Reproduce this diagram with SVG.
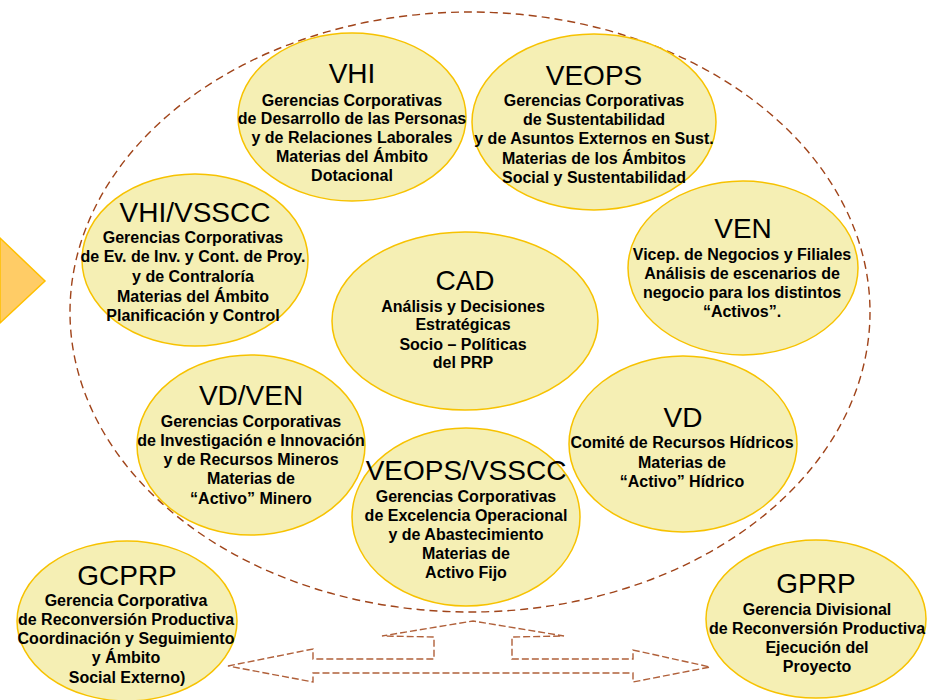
<svg xmlns="http://www.w3.org/2000/svg" width="933" height="700" viewBox="0 0 933 700">
<style>
.n ellipse{fill:#F5EFB4;stroke:#F7C200;stroke-width:1.5}
text{font-family:"Liberation Sans",Arial,sans-serif;fill:#000;text-anchor:middle}
.t{font-size:28px}
.b{font-size:16px;font-weight:bold}
.dash{fill:none;stroke:#A0441A;stroke-width:1.4;stroke-dasharray:8 5}
.arr{fill:none;stroke:#B0603A;stroke-width:1.4;stroke-dasharray:7 3}
</style>
<rect width="933" height="700" fill="#fff"/>
<polygon points="0,238 45,281 0,323" fill="#FFCC66" stroke="#FFC000" stroke-width="1.5"/>
<g id="connectors">
<ellipse class="dash" cx="470" cy="312" rx="400" ry="300"/>
<path class="arr" d="M228,666 L313,649 L313,659 L434,659 L434,637 L382,636 L473,621 L564,636 L512,637 L512,659 L633,659 L633,650 L710,667 L633,682 L633,673 L313,673 L313,682 Z"/>
</g>
<g id="VHI" class="n"><ellipse cx="352" cy="117" rx="114" ry="84"/>
<text class="t" x="352" y="83">VHI</text>
<text class="b" x="352" y="106">Gerencias Corporativas</text>
<text class="b" x="352" y="124">de Desarrollo de las Personas</text>
<text class="b" x="352" y="143">y de Relaciones Laborales</text>
<text class="b" x="352" y="162">Materias del Ámbito</text>
<text class="b" x="352" y="181">Dotacional</text></g>
<g id="VEOPS" class="n"><ellipse cx="594" cy="122" rx="122" ry="88"/>
<text class="t" x="594" y="85">VEOPS</text>
<text class="b" x="594" y="106">Gerencias Corporativas</text>
<text class="b" x="594" y="125">de Sustentabilidad</text>
<text class="b" x="594" y="144">y de Asuntos Externos en Sust.</text>
<text class="b" x="594" y="164">Materias de los Ámbitos</text>
<text class="b" x="594" y="183">Social y Sustentabilidad</text></g>
<g id="VHI-VSSCC" class="n"><ellipse cx="195" cy="260" rx="113" ry="86"/>
<text class="t" x="195" y="222">VHI/VSSCC</text>
<text class="b" x="193" y="243">Gerencias Corporativas</text>
<text class="b" x="193" y="262">de Ev. de Inv. y Cont. de Proy.</text>
<text class="b" x="193" y="282">y de Contraloría</text>
<text class="b" x="193" y="302">Materias del Ámbito</text>
<text class="b" x="193" y="321">Planificación y Control</text></g>
<g id="VEN" class="n"><ellipse cx="743" cy="268" rx="115" ry="87"/>
<text class="t" x="743" y="238">VEN</text>
<text class="b" x="742" y="260">Vicep. de Negocios y Filiales</text>
<text class="b" x="742" y="279">Análisis de escenarios de</text>
<text class="b" x="742" y="298">negocio para los distintos</text>
<text class="b" x="742" y="317">“Activos”.</text></g>
<g id="CAD" class="n"><ellipse cx="465" cy="321" rx="133" ry="89"/>
<text class="t" x="465" y="290">CAD</text>
<text class="b" x="463" y="312">Análisis y Decisiones</text>
<text class="b" x="463" y="330">Estratégicas</text>
<text class="b" x="463" y="350">Socio – Políticas</text>
<text class="b" x="463" y="368">del PRP</text></g>
<g id="VD-VEN" class="n"><ellipse cx="251" cy="445" rx="114" ry="90"/>
<text class="t" x="251" y="405">VD/VEN</text>
<text class="b" x="251" y="427">Gerencias Corporativas</text>
<text class="b" x="251" y="446">de Investigación e Innovación</text>
<text class="b" x="251" y="465">y de Recursos Mineros</text>
<text class="b" x="251" y="484">Materias de</text>
<text class="b" x="251" y="504">“Activo” Minero</text></g>
<g id="VD" class="n"><ellipse cx="683" cy="444" rx="114" ry="88"/>
<text class="t" x="683" y="427">VD</text>
<text class="b" x="682" y="448">Comité de Recursos Hídricos</text>
<text class="b" x="682" y="468">Materias de</text>
<text class="b" x="682" y="487">“Activo” Hídrico</text></g>
<g id="VEOPS-VSSCC" class="n"><ellipse cx="466" cy="517" rx="114" ry="89"/>
<text class="t" x="466" y="480">VEOPS/VSSCC</text>
<text class="b" x="466" y="502">Gerencias Corporativas</text>
<text class="b" x="466" y="521">de Excelencia Operacional</text>
<text class="b" x="466" y="540">y de Abastecimiento</text>
<text class="b" x="466" y="559">Materias de</text>
<text class="b" x="466" y="578">Activo Fijo</text></g>
<g id="GCPRP" class="n"><ellipse cx="127" cy="621" rx="110" ry="80"/>
<text class="t" x="127" y="585">GCPRP</text>
<text class="b" x="126" y="606">Gerencia Corporativa</text>
<text class="b" x="126" y="625">de Reconversión Productiva</text>
<text class="b" x="126" y="644">Coordinación y Seguimiento</text>
<text class="b" x="126" y="663">y Ámbito</text>
<text class="b" x="127" y="683">Social Externo)</text></g>
<g id="GPRP" class="n"><ellipse cx="816" cy="619" rx="110" ry="79"/>
<text class="t" x="816" y="593">GPRP</text>
<text class="b" x="817" y="615">Gerencia Divisional</text>
<text class="b" x="817" y="634">de Reconversión Productiva</text>
<text class="b" x="817" y="653">Ejecución del</text>
<text class="b" x="817" y="672">Proyecto</text></g>
</svg>
